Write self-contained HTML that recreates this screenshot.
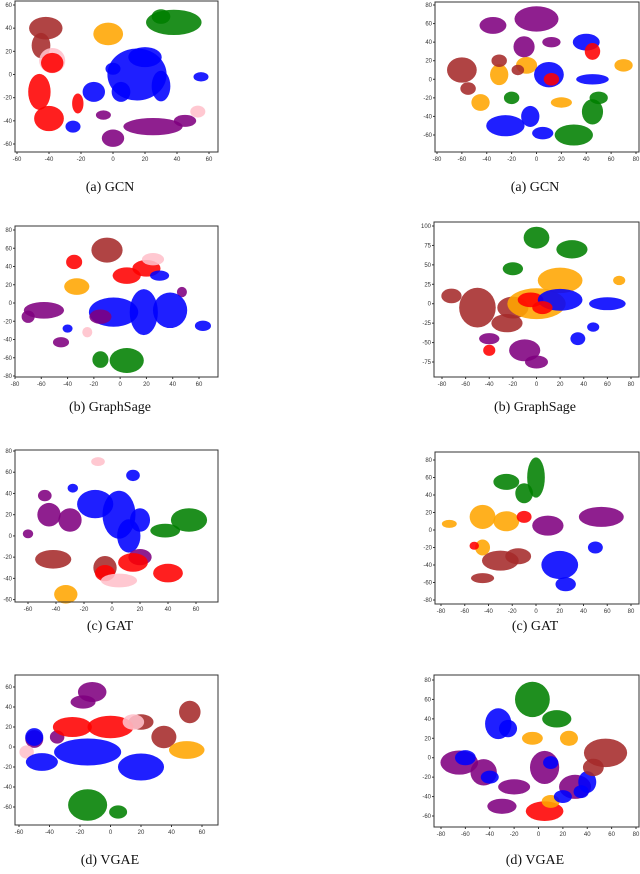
<!DOCTYPE html>
<html><head><meta charset="utf-8">
<style>
body{margin:0;background:#fff;width:640px;height:874px;overflow:hidden;font-family:"Liberation Sans",sans-serif}
svg{position:absolute;left:0;top:0}
.cap{position:absolute;font-family:"Liberation Serif",serif;font-size:14px;color:#111;text-align:center;width:220px}
</style></head><body>
<svg id="chart" width="640" height="874"></svg>
<div class="cap" style="left:0;top:180px">(a) GCN</div>
<div class="cap" style="left:425px;top:180px">(a) GCN</div>
<div class="cap" style="left:0;top:400px">(b) GraphSage</div>
<div class="cap" style="left:425px;top:400px">(b) GraphSage</div>
<div class="cap" style="left:0;top:619px">(c) GAT</div>
<div class="cap" style="left:425px;top:619px">(c) GAT</div>
<div class="cap" style="left:0;top:853px">(d) VGAE</div>
<div class="cap" style="left:425px;top:853px">(d) VGAE</div>
<script>
// ---- data: clusters (centre x, centre y, spread x, spread y, class colour) ----
const L1_x=[-42,-45,38,30,-3,-38,-40,-46,-38,15,-12,-25,55,0,30,25,0,45,-6,53,-22,5,20];
const L1_y=[40,25,45,50,35,12,-38,-15,10,0,-15,-45,-2,5,-10,-45,-55,-40,-35,-32,-25,-15,15];
const L1_rx=[8,4,14,4,7,6,7,5,5,15,5,3,3,3,4,15,5,5,3,3,2,4,8];
const L1_ry=[7,8,8,4,7,8,8,12,6,18,6,3,2,3,10,5,5,3,2,3,6,6,6];
const L1_c=["brown","brown","green","green","orange","pink","red","red","red","blue","blue","blue","blue","blue","blue","purple","purple","purple","purple","pink","red","blue","blue"];

const R1_x=[0,-35,-10,12,-60,-55,-8,-30,-45,20,70,10,40,-25,-5,5,45,30,45,50,45,12,-15,-20,-30];
const R1_y=[65,58,35,40,10,-10,15,5,-25,-25,15,5,40,-50,-40,-58,0,-60,-35,-20,30,0,10,-20,20];
const R1_rx=[14,8,6,5,9,4,6,5,5,6,5,9,8,12,5,6,10,12,6,5,4,4,3,4,4];
const R1_ry=[10,6,8,3,10,4,6,8,6,3,4,10,6,8,8,4,3,8,10,4,6,4,3,4,4];
const R1_c=["purple","purple","purple","purple","brown","brown","orange","orange","orange","orange","orange","blue","blue","blue","blue","blue","blue","green","green","green","red","red","brown","green","brown"];

const L2_x=[-10,-35,5,20,25,-25,-33,-58,-70,-45,47,-5,18,38,63,30,-40,5,-15,-15];
const L2_y=[58,45,30,38,48,-32,18,-8,-15,-43,12,-10,-10,-8,-25,30,-28,-63,-62,-15];
const L2_rx=[9,4,8,8,6,2,7,12,3,4,2,15,8,10,4,5,2,10,4,6];
const L2_ry=[10,5,6,6,4,3,6,6,4,3,3,12,20,15,3,3,2,10,6,5];
const L2_c=["brown","red","red","red","pink","pink","orange","purple","purple","purple","purple","blue","blue","blue","blue","blue","blue","green","green","purple"];

const R2_x=[0,30,-20,20,70,-72,-50,-20,0,-5,20,60,35,48,-10,0,-40,-40,5,-25];
const R2_y=[85,70,45,30,30,10,-5,-5,0,5,5,0,-45,-30,-60,-75,-45,-60,-5,-25];
const R2_rx=[8,10,6,15,3,6,12,10,20,8,15,12,4,3,10,7,6,3,6,10];
const R2_ry=[10,8,5,12,3,6,20,10,15,6,10,5,5,3,10,5,4,4,5,8];
const R2_c=["green","green","green","orange","orange","brown","brown","brown","orange","red","blue","blue","blue","blue","purple","purple","purple","red","red","brown"];

const L3_x=[-10,-12,5,15,-28,20,12,-45,-30,-48,-60,20,55,38,-42,-5,40,15,-5,5,-33];
const L3_y=[70,30,20,57,45,15,0,20,15,38,2,-20,15,5,-22,-30,-35,-25,-35,-42,-55];
const L3_rx=[3,10,9,3,2,5,6,6,6,3,2,6,10,8,10,6,8,8,5,10,6];
const L3_ry=[2,10,18,3,2,8,12,8,8,3,2,5,8,4,6,8,6,6,5,4,6];
const L3_c=["pink","blue","blue","blue","blue","blue","blue","purple","purple","purple","purple","purple","green","green","brown","brown","red","red","red","pink","orange"];

const R3_x=[0,-25,-10,-45,-25,-45,-73,55,10,-30,-45,-15,20,25,50,-10,-52];
const R3_y=[60,55,42,15,10,-20,7,15,5,-35,-55,-30,-40,-62,-20,15,-18];
const R3_rx=[5,8,5,8,8,4,4,15,10,12,7,8,12,6,4,4,2];
const R3_ry=[18,6,8,10,8,6,2,8,8,8,3,6,12,5,4,4,2];
const R3_c=["green","green","green","orange","orange","orange","orange","purple","purple","brown","brown","brown","blue","blue","blue","red","red"];

const L4_x=[-12,-18,-50,-35,52,35,20,-25,0,15,-55,-15,20,-50,-45,50,-15,5];
const L4_y=[55,45,8,10,35,10,25,20,20,25,-5,-5,-20,10,-15,-3,-58,-65];
const L4_rx=[7,6,4,3,5,6,6,10,12,5,3,18,12,4,8,9,10,4];
const L4_ry=[7,4,6,4,8,8,5,7,8,5,4,10,10,6,6,6,12,4];
const L4_c=["purple","purple","purple","purple","brown","brown","brown","red","red","pink","pink","blue","blue","blue","blue","orange","green","green"];

const R4_x=[-5,15,-33,-65,-45,55,5,30,-20,5,-30,40,25,-5,-60,-40,10,35,-25,45,10,20];
const R4_y=[60,40,35,-5,-15,5,-10,-30,-30,-55,-50,-25,20,20,0,-20,-5,-35,30,-10,-45,-40];
const R4_rx=[11,9,8,12,8,14,9,10,10,12,9,5,5,6,6,5,4,4,5,6,5,5];
const R4_ry=[14,6,12,9,10,11,13,9,5,7,5,8,5,4,5,4,4,4,6,6,4,4];
const R4_c=["green","green","blue","purple","purple","brown","purple","purple","purple","red","purple","blue","orange","orange","blue","blue","blue","blue","blue","brown","orange","blue"];

// ---- tick labels ----
const L1_xt=[-60,-40,-20,0,20,40,60], L1_yt=[60,40,20,0,-20,-40,-60];
const R1_xt=[-80,-60,-40,-20,0,20,40,60,80], R1_yt=[80,60,40,20,0,-20,-40,-60];
const L2_xt=[-80,-60,-40,-20,0,20,40,60], L2_yt=[80,60,40,20,0,-20,-40,-60,-80];
const R2_xt=[-80,-60,-40,-20,0,20,40,60,80], R2_yt=[100,75,50,25,0,-25,-50,-75];
const L3_xt=[-60,-40,-20,0,20,40,60], L3_yt=[80,60,40,20,0,-20,-40,-60];
const R3_xt=[-80,-60,-40,-20,0,20,40,60,80], R3_yt=[80,60,40,20,0,-20,-40,-60,-80];
const L4_xt=[-60,-40,-20,0,20,40,60], L4_yt=[60,40,20,0,-20,-40,-60];
const R4_xt=[-80,-60,-40,-20,0,20,40,60,80], R4_yt=[80,60,40,20,0,-20,-40,-60];

const COL={brown:"#a52a2a",red:"#ff0000",pink:"#ffc0cb",purple:"#800080",blue:"#0000ff",green:"#008000",orange:"#ffa500"};
const NS="http://www.w3.org/2000/svg";
const svg=document.getElementById("chart");
function mk(t,a){const e=document.createElementNS(NS,t);for(const k in a)e.setAttribute(k,a[k]);return e;}

function panel(name,box,ax,xs,ys,rxs,rys,cs,xt,yt){
  const g=mk("g",{});
  
  
  svg.appendChild(g);
  const sx=v=>ax.x0p+(v-ax.x0)*(ax.x1p-ax.x0p)/(ax.x1-ax.x0);
  const sy=v=>ax.y0p+(v-ax.y0)*(ax.y1p-ax.y0p)/(ax.y1-ax.y0);
  const kx=Math.abs((ax.x1p-ax.x0p)/(ax.x1-ax.x0))*1.15, ky=Math.abs((ax.y1p-ax.y0p)/(ax.y1-ax.y0))*1.15;
  for(let i=0;i<xs.length;i++){
    const e=mk("ellipse",{cx:sx(xs[i]),cy:sy(ys[i]),rx:rxs[i]*kx+2,ry:rys[i]*ky+2,fill:COL[cs[i]],"fill-opacity":0.88});
    
    
    g.appendChild(e);
  }
  const fr=mk("rect",{x:box.l,y:box.t,width:box.r-box.l,height:box.b-box.t,fill:"none",stroke:"#333","stroke-width":1});
  
  
  g.appendChild(fr);
  xt.forEach(v=>{
    const x=sx(v);
    g.appendChild(mk("line",{x1:x,x2:x,y1:box.b,y2:box.b+2,stroke:"#333"}));
    const t=mk("text",{x:x,y:box.b+9,"font-size":6,"text-anchor":"middle",fill:"#333"});
    t.textContent=v;
    
    
    g.appendChild(t);
  });
  yt.forEach(v=>{
    const y=sy(v);
    g.appendChild(mk("line",{x1:box.l-2,x2:box.l,y1:y,y2:y,stroke:"#333"}));
    const t=mk("text",{x:box.l-3,y:y+2,"font-size":6,"text-anchor":"end",fill:"#333"});
    t.textContent=v;
    
    
    g.appendChild(t);
  });
}
panel("gcn-left-plot",{l:15,r:218,t:1,b:152},{x0:-60,x1:60,x0p:17,x1p:209,y0:60,y1:-60,y0p:5,y1p:144},L1_x,L1_y,L1_rx,L1_ry,L1_c,L1_xt,L1_yt);
panel("gcn-right-plot",{l:435,r:639,t:2,b:152},{x0:-80,x1:80,x0p:437,x1p:636,y0:80,y1:-60,y0p:5,y1p:135},R1_x,R1_y,R1_rx,R1_ry,R1_c,R1_xt,R1_yt);
panel("graphsage-left-plot",{l:15,r:218,t:226,b:377},{x0:-80,x1:60,x0p:15,x1p:199,y0:80,y1:-80,y0p:230,y1p:376},L2_x,L2_y,L2_rx,L2_ry,L2_c,L2_xt,L2_yt);
panel("graphsage-right-plot",{l:434,r:639,t:222,b:377},{x0:-80,x1:80,x0p:442,x1p:631,y0:100,y1:-75,y0p:226,y1p:362},R2_x,R2_y,R2_rx,R2_ry,R2_c,R2_xt,R2_yt);
panel("gat-left-plot",{l:15,r:218,t:450,b:602},{x0:-60,x1:60,x0p:28,x1p:196,y0:80,y1:-50,y0p:451,y1p:589},L3_x,L3_y,L3_rx,L3_ry,L3_c,L3_xt,L3_yt);
panel("gat-right-plot",{l:435,r:639,t:452,b:604},{x0:-80,x1:80,x0p:441,x1p:631,y0:80,y1:-80,y0p:460,y1p:600},R3_x,R3_y,R3_rx,R3_ry,R3_c,R3_xt,R3_yt);
panel("vgae-left-plot",{l:15,r:218,t:675,b:825},{x0:-60,x1:60,x0p:19,x1p:202,y0:60,y1:-60,y0p:687,y1p:807},L4_x,L4_y,L4_rx,L4_ry,L4_c,L4_xt,L4_yt);
panel("vgae-right-plot",{l:434,r:639,t:675,b:827},{x0:-80,x1:80,x0p:441,x1p:636,y0:80,y1:-60,y0p:680,y1p:816},R4_x,R4_y,R4_rx,R4_ry,R4_c,R4_xt,R4_yt);
</script>
</body></html>
